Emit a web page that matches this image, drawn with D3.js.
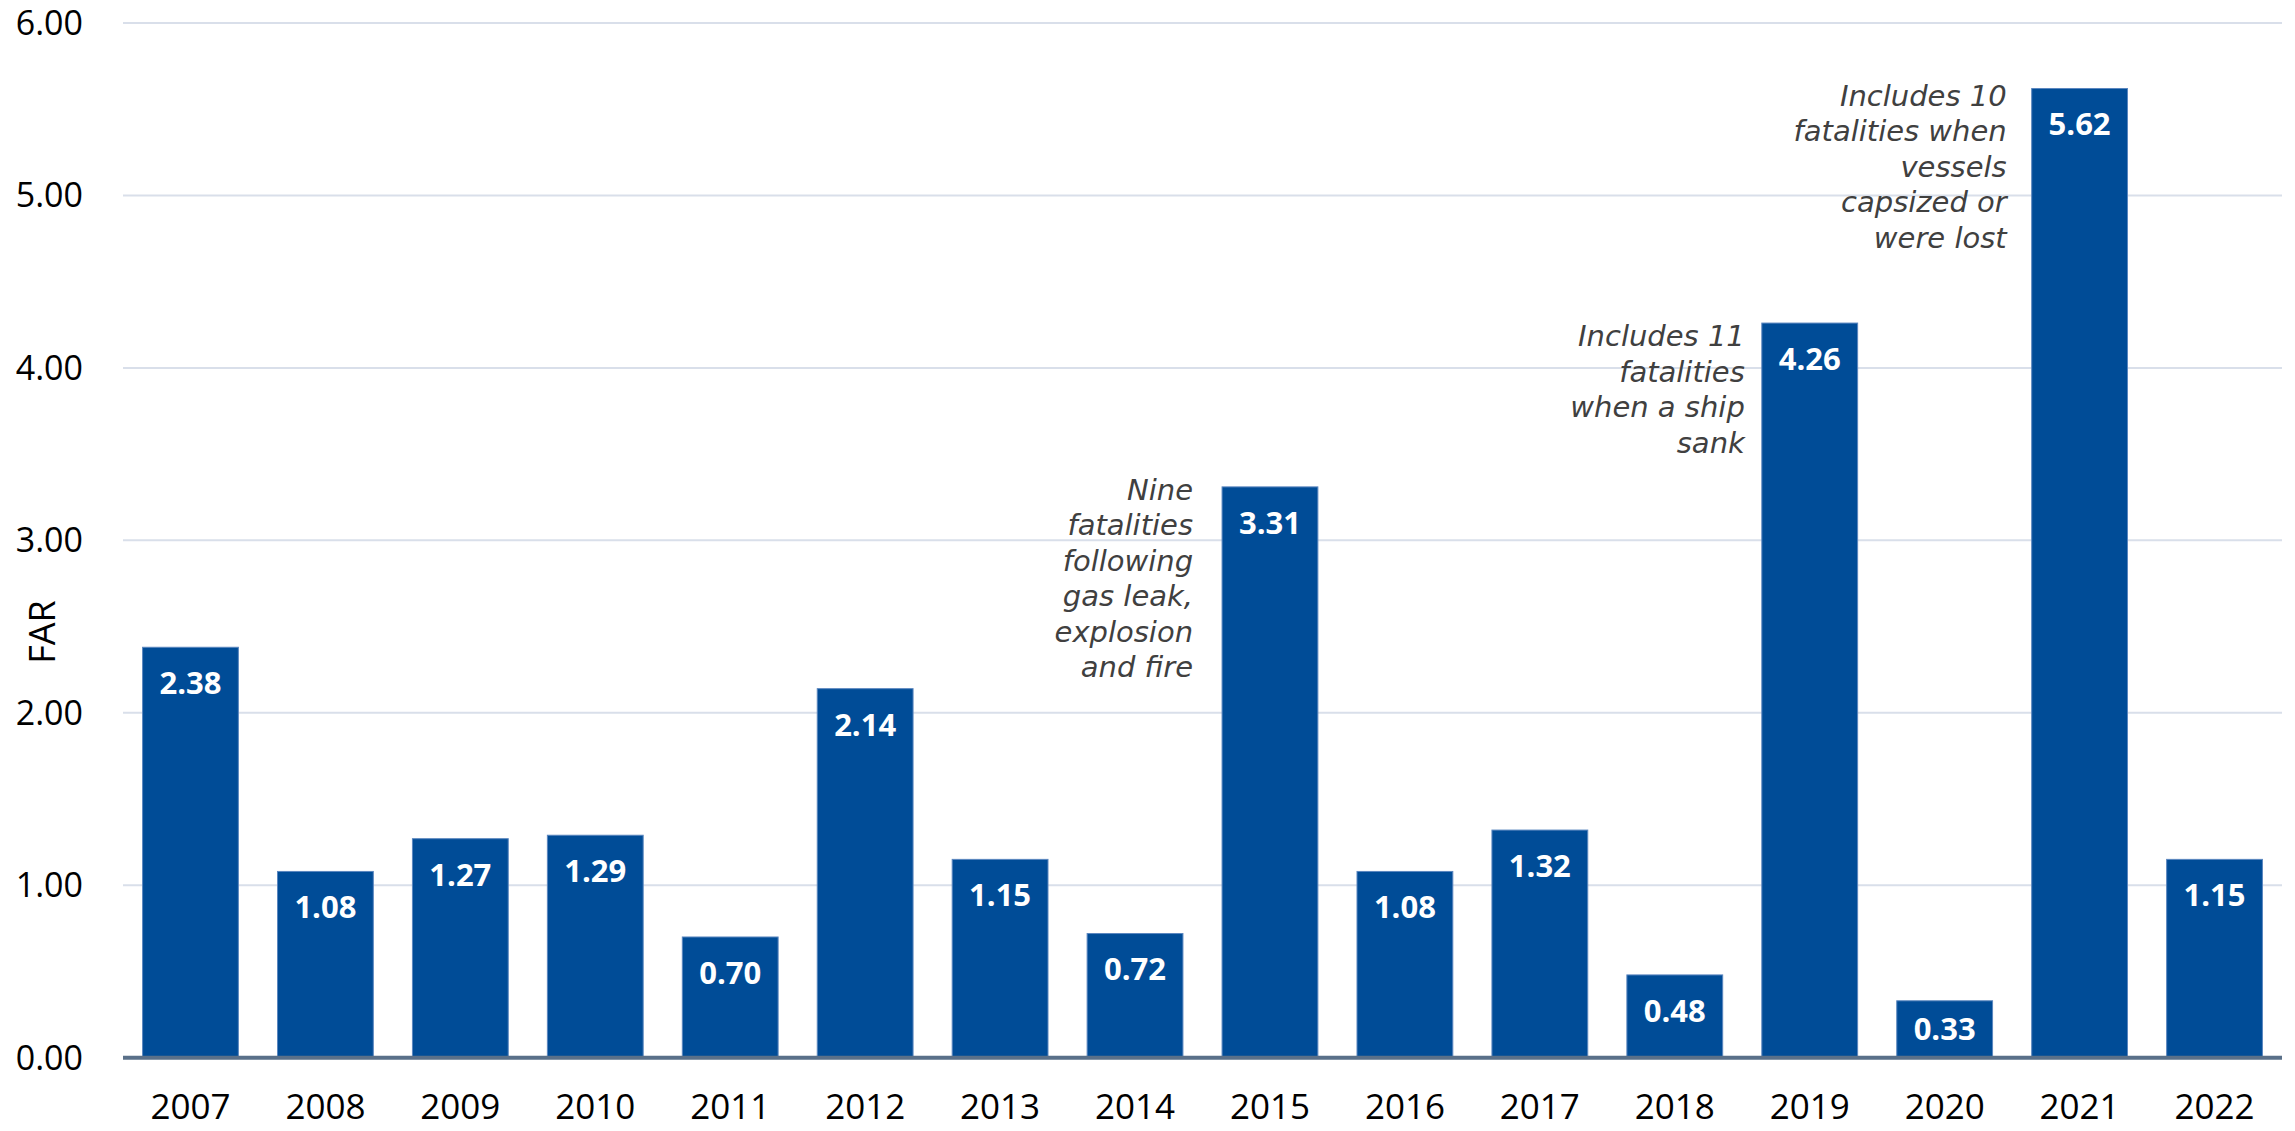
<!DOCTYPE html>
<html>
<head>
<meta charset="utf-8">
<script src="https://cdn.jsdelivr.net/npm/d3@7"></script>
<style>
  html, body { margin: 0; padding: 0; background: #fff; }
  svg { display: block; }
  .tick-label { font-family: "Open Sans", sans-serif; font-size: 34px; fill: #000; }
  .axis-title { font-family: "Open Sans", sans-serif; font-size: 36px; fill: #000; }
  .year-label { font-family: "Open Sans", sans-serif; font-size: 35px; fill: #000; }
  .value-label { font-family: "Open Sans", sans-serif; font-size: 31px; font-weight: 700; fill: #fff; }
  .note { font-family: "DejaVu Sans", sans-serif; font-style: italic; font-size: 29px; fill: #404040; }
</style>
</head>
<body>
<svg id="chart" width="2295" height="1131"></svg>
<script>
// data
const years = ['2007', '2008', '2009', '2010', '2011', '2012', '2013', '2014',
               '2015', '2016', '2017', '2018', '2019', '2020', '2021', '2022'];
const far = [2.38, 1.08, 1.27, 1.29, 0.70, 2.14, 1.15, 0.72,
             3.31, 1.08, 1.32, 0.48, 4.26, 0.33, 5.62, 1.15];
const yTicks = [0, 1, 2, 3, 4, 5, 6];
const yLabel = 'FAR';
const noteYears = ['2015', '2019', '2021'];
const noteLines = [
  ['Nine', 'fatalities', 'following', 'gas leak,', 'explosion', 'and fire'],
  ['Includes 11', 'fatalities', 'when a ship', 'sank'],
  ['Includes 10', 'fatalities when', 'vessels', 'capsized or', 'were lost']
];

// layout
const plotL = 123, plotR = 2282, plotT = 23, plotB = 1057.7;
// per-note nudges, relative to the bar's top-left corner
const noteShift = { '2015': [-29, 13], '2019': [-17, 23], '2021': [-25, 17] };

const svg = d3.select('#chart');

const x = d3.scaleBand().domain(years).range([plotL, plotR])
  .paddingInner(0.29).paddingOuter(0.145);
const y = d3.scaleLinear().domain([0, 6]).range([plotB, plotT]);

// gridlines
svg.append('g').selectAll('line')
  .data(yTicks.filter(d => d > 0)).enter().append('line')
  .attr('x1', plotL).attr('x2', plotR)
  .attr('y1', d => y(d)).attr('y2', d => y(d))
  .attr('stroke', '#D9DFEA').attr('stroke-width', 2);

// y tick labels
svg.append('g').selectAll('text')
  .data(yTicks).enter().append('text')
  .attr('class', 'tick-label')
  .attr('x', 83).attr('y', d => y(d)).attr('dy', '0.35em')
  .attr('text-anchor', 'end')
  .text(d => d3.format('.2f')(d));

// y axis title
svg.append('text')
  .attr('class', 'axis-title')
  .attr('transform', 'translate(42, 632) rotate(-90)')
  .attr('text-anchor', 'middle').attr('dy', '0.35em')
  .text(yLabel);

// bars
const rows = years.map((yr, i) => ({ year: yr, v: far[i] }));
svg.append('g').selectAll('rect')
  .data(rows).enter().append('rect')
  .attr('x', d => x(d.year)).attr('width', x.bandwidth())
  .attr('y', d => y(d.v)).attr('height', d => y(0) - y(d.v))
  .attr('fill', '#004C97')
  .attr('stroke', '#5A86BF').attr('stroke-width', 1);

// value labels inside bar tops
svg.append('g').selectAll('text')
  .data(rows).enter().append('text')
  .attr('class', 'value-label')
  .attr('x', d => x(d.year) + x.bandwidth() / 2)
  .attr('y', d => Math.min(y(d.v) + 36, (y(d.v) + y(0)) / 2))
  .attr('dy', '0.35em')
  .attr('text-anchor', 'middle')
  .text(d => d3.format('.2f')(d.v));

// x axis line
svg.append('line')
  .attr('x1', plotL).attr('x2', plotR)
  .attr('y1', y(0)).attr('y2', y(0))
  .attr('stroke', '#5A7089').attr('stroke-width', 4);

// year labels
svg.append('g').selectAll('text')
  .data(years).enter().append('text')
  .attr('class', 'year-label')
  .attr('x', d => x(d) + x.bandwidth() / 2)
  .attr('y', 1107).attr('dy', '0.35em')
  .attr('text-anchor', 'middle')
  .text(d => d);

// annotations
noteYears.forEach((yr, i) => {
  const v = far[years.indexOf(yr)];
  const [dx, dy] = noteShift[yr];
  const t = svg.append('text')
    .attr('class', 'note')
    .attr('text-anchor', 'end')
    .attr('x', x(yr) + dx)
    .attr('y', y(v) + dy);
  t.selectAll('tspan').data(noteLines[i]).enter().append('tspan')
    .attr('x', x(yr) + dx)
    .attr('dy', (d, j) => j === 0 ? 0 : 35.5)
    .text(d => d);
});
</script>
</body>
</html>
